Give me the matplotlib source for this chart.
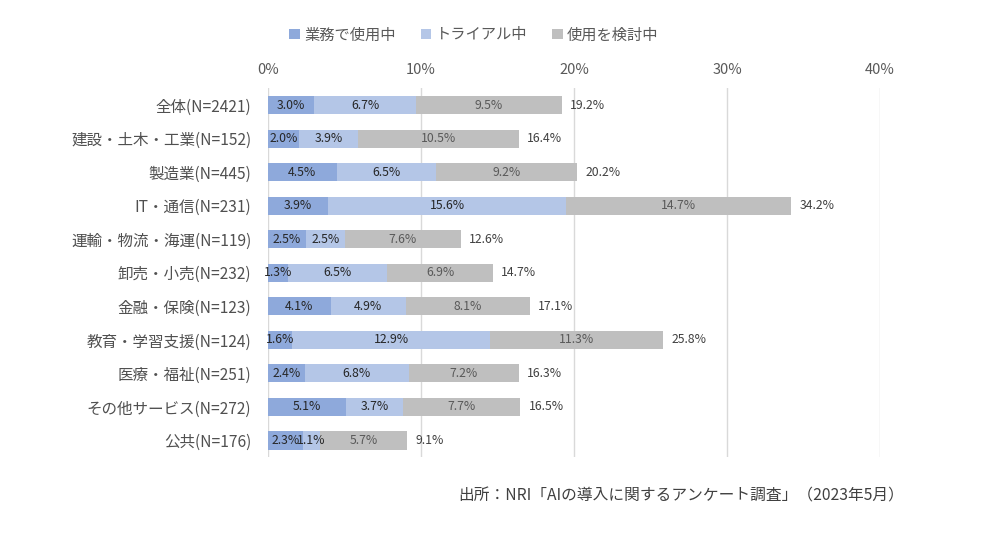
import matplotlib
matplotlib.use('Agg')
import matplotlib.pyplot as plt
from matplotlib.patches import Patch
import numpy as np

plt.rcParams['font.family'] = ['Noto Sans CJK JP', 'DejaVu Sans']

categories = ['全体(N=2421)', '建設・土木・工業(N=152)', '製造業(N=445)', 'IT・通信(N=231)',
              '運輸・物流・海運(N=119)', '卸売・小売(N=232)', '金融・保険(N=123)',
              '教育・学習支援(N=124)', '医療・福祉(N=251)', 'その他サービス(N=272)', '公共(N=176)']
in_use = [3.0, 2.0, 4.5, 3.9, 2.5, 1.3, 4.1, 1.6, 2.4, 5.1, 2.3]
trial = [6.7, 3.9, 6.5, 15.6, 2.5, 6.5, 4.9, 12.9, 6.8, 3.7, 1.1]
considering = [9.5, 10.5, 9.2, 14.7, 7.6, 6.9, 8.1, 11.3, 7.2, 7.7, 5.7]
totals = [19.2, 16.4, 20.2, 34.2, 12.6, 14.7, 17.1, 25.8, 16.3, 16.5, 9.1]
series_names = ['業務で使用中', 'トライアル中', '使用を検討中']
xticks = [0, 10, 20, 30, 40]

colors = ['#8EA9DB', '#B4C6E7', '#BFBFBF']
text_colors = ['#262626', '#262626', '#595959']

fig = plt.figure(figsize=(10, 5.38), dpi=100)
ax = fig.add_axes([0.268, 0.150, 0.612, 0.686])

y = np.arange(len(categories))
left = np.zeros(len(categories))
for vals, col, tcol in zip([in_use, trial, considering], colors, text_colors):
    vals = np.array(vals)
    ax.barh(y, vals, left=left, height=0.54, color=col, zorder=2)
    for yi, l, v in zip(y, left, vals):
        ax.text(l + v / 2, yi, '%.1f%%' % v, ha='center', va='center',
                fontsize=8.8, color=tcol, zorder=3)
    left = left + vals

for yi, l, t in zip(y, left, totals):
    ax.text(l + 0.55, yi, '%.1f%%' % t, ha='left', va='center', fontsize=8.8, color='#404040')

ax.set_xlim(0, 40)
ax.set_ylim(len(categories) - 0.5, -0.5)
ax.set_yticks(y)
ax.set_yticklabels(categories, fontsize=11.2, color='#505050')
ax.set_xticks(xticks)
ax.set_xticklabels(['%d%%' % t for t in xticks], fontsize=10.5, color='#595959')
ax.xaxis.tick_top()
ax.tick_params(axis='x', length=0, pad=8)
ax.tick_params(axis='y', length=0, pad=12)
ax.grid(axis='x', color='#D9D9D9', linewidth=1, zorder=0)
ax.set_axisbelow(True)
for s in ax.spines.values():
    s.set_visible(False)

handles = [Patch(facecolor=c, edgecolor='none') for c in colors]
fig.legend(handles, series_names, loc='center', bbox_to_anchor=(0.474, 0.935), ncol=3,
           frameon=False, fontsize=11, handlelength=0.7, handleheight=0.7,
           handletextpad=0.3, columnspacing=1.6, labelcolor='#595959')

fig.text(0.904, 0.078, '出所：NRI「AIの導入に関するアンケート調査」（2023年5月）', ha='right',
         va='center', fontsize=11.3, color='#404040')

fig.savefig('out.png', dpi=100)
